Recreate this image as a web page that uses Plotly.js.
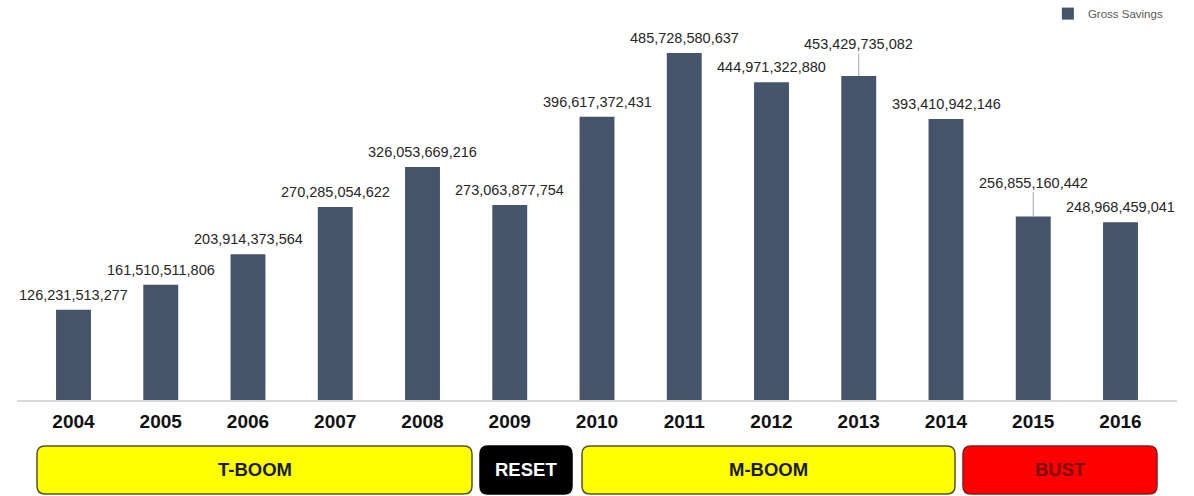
<!DOCTYPE html>
<html>
<head>
<meta charset="utf-8">
<script src="https://cdn.plot.ly/plotly-3.0.1.min.js"></script>
<style>html,body{margin:0;padding:0;background:#fff;}#chart{width:1194px;height:496px;}</style>
</head>
<body>
<div id="chart"></div>
<script>
// ---- data ----
const years = ['2004','2005','2006','2007','2008','2009','2010','2011','2012','2013','2014','2015','2016'];
const grossSavings = [126231513277, 161510511806, 203914373564, 270285054622, 326053669216, 273063877754,
  396617372431, 485728580637, 444971322880, 453429735082, 393410942146, 256855160442, 248968459041];
const phaseNames = ['T-BOOM', 'RESET', 'M-BOOM', 'BUST'];
const seriesName = 'Gross Savings';

// ---- layout constants ----
const W = 1194, H = 496;
const M = {l: 17, r: 17, t: 20, b: 96, autoexpand: false};
const plotW = W - M.l - M.r, plotH = H - M.t - M.b;
const barColor = '#44546A';
const leaderYears = {'2013': -32, '2015': -34};

const phaseStyle = [
  {x0: 37,  x1: 472,  fill: '#FFFF00', line: '#55552a', text: '#1a1a1a'},
  {x0: 480, x1: 572,  fill: '#000000', line: '#000000', text: '#ffffff'},
  {x0: 582, x1: 955,  fill: '#FFFF00', line: '#55552a', text: '#1a1a1a'},
  {x0: 963, x1: 1157, fill: '#FF0000', line: '#8b1a1a', text: '#7a0a0a'}
];
const boxTop = 446, boxBot = 494, rad = 8;

function px2x(px){ return (px - M.l) / plotW; }
function py2y(py){ return (M.t + plotH - py) / plotH; }

function roundRect(x0p, x1p, y0p, y1p){
  const x0 = px2x(x0p), x1 = px2x(x1p), yt = py2y(y0p), yb = py2y(y1p);
  const rx = rad / plotW, ry = rad / plotH;
  return `M ${x0+rx},${yt} L ${x1-rx},${yt} Q ${x1},${yt} ${x1},${yt-ry} L ${x1},${yb+ry} Q ${x1},${yb} ${x1-rx},${yb} ` +
         `L ${x0+rx},${yb} Q ${x0},${yb} ${x0},${yb+ry} L ${x0},${yt-ry} Q ${x0},${yt} ${x0+rx},${yt} Z`;
}

const shapes = phaseNames.map((n, i) => ({
  type: 'path', xref: 'paper', yref: 'paper',
  path: roundRect(phaseStyle[i].x0, phaseStyle[i].x1, boxTop, boxBot),
  fillcolor: phaseStyle[i].fill, line: {color: phaseStyle[i].line, width: 1.5}, layer: 'above'
}));

const annotations = [];
years.forEach((yr, i) => {
  const txt = grossSavings[i].toLocaleString('en-US');
  const base = {x: i, y: grossSavings[i], xref: 'x', yref: 'y', text: txt,
    font: {family: 'Liberation Sans, Arial, sans-serif', size: 14.5, color: '#262626'}};
  if (leaderYears[yr] !== undefined) {
    annotations.push(Object.assign(base, {showarrow: true, ax: 0, ay: leaderYears[yr], arrowhead: 0,
      arrowwidth: 1, arrowcolor: '#a6a6a6', standoff: 0}));
  } else {
    annotations.push(Object.assign(base, {showarrow: false, yshift: 15, xanchor: 'center', yanchor: 'middle'}));
  }
});
phaseNames.forEach((n, i) => {
  annotations.push({
    xref: 'paper', yref: 'paper', showarrow: false, xanchor: 'center', yanchor: 'middle',
    x: px2x((phaseStyle[i].x0 + phaseStyle[i].x1) / 2),
    y: py2y((boxTop + boxBot) / 2),
    text: '<b>' + n + '</b>',
    font: {family: 'Liberation Sans, Arial, sans-serif', size: 18.5, color: phaseStyle[i].text}
  });
});

const trace = {
  type: 'bar', x: years, y: grossSavings, name: seriesName,
  marker: {color: barColor}, hoverinfo: 'x+y'
};

const layout = {
  width: W, height: H,
  margin: M,
  paper_bgcolor: '#ffffff', plot_bgcolor: '#ffffff',
  bargap: 0.6,
  showlegend: true,
  legend: {x: 0.993, xanchor: 'right', y: 1.055, yanchor: 'top', orientation: 'h',
    font: {family: 'Liberation Sans, Arial, sans-serif', size: 11.5, color: '#595959'},
    itemwidth: 30, bgcolor: 'rgba(0,0,0,0)'},
  xaxis: {type: 'category', showline: true, linecolor: '#d9d9d9', linewidth: 1.5,
    showgrid: false, ticks: '', ticklabelstandoff: 4,
    tickfont: {family: 'Liberation Sans, Arial, sans-serif', size: 19, color: '#111111', weight: 'bold'}},
  yaxis: {range: [0, 532e9], visible: false, showgrid: false, zeroline: false},
  shapes: shapes,
  annotations: annotations
};

Plotly.newPlot('chart', [trace], layout, {displayModeBar: false, staticPlot: true});
</script>
</body>
</html>
